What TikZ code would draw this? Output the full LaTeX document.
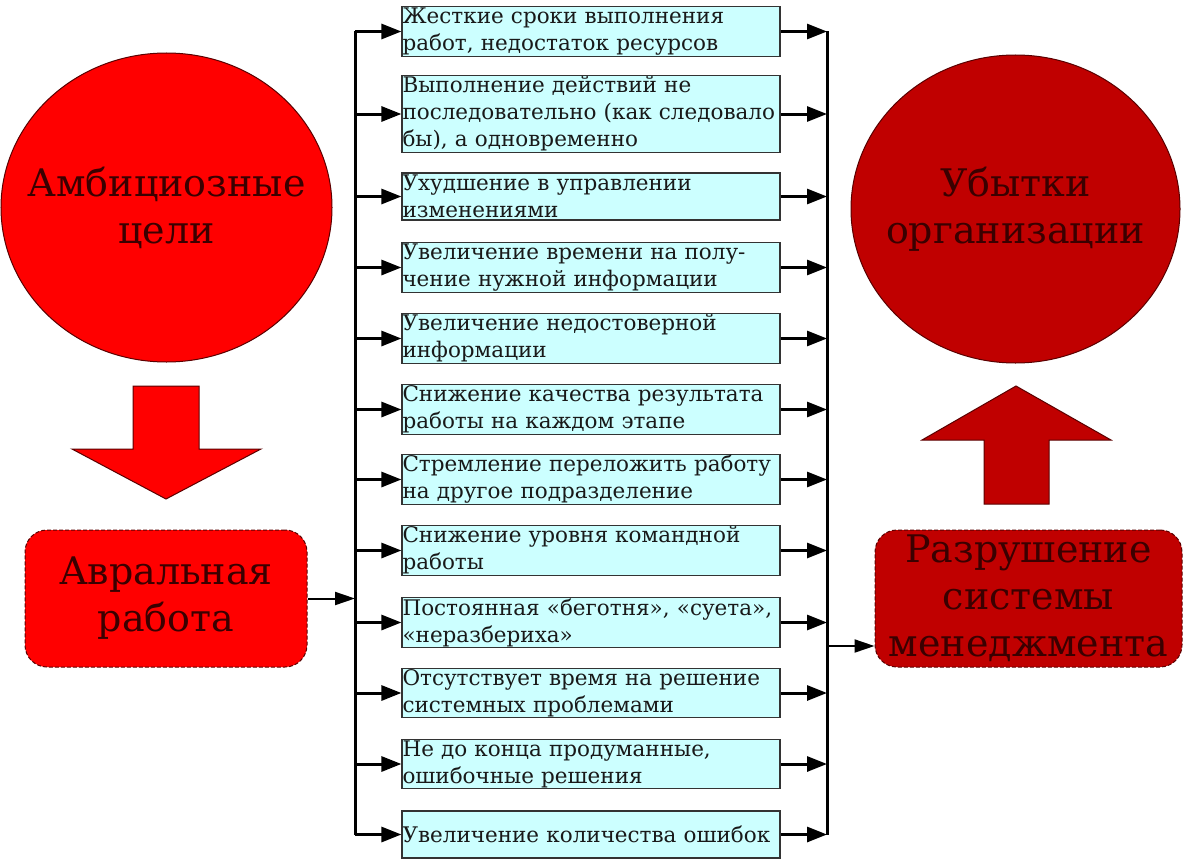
\documentclass[tikz,border=0pt]{standalone}
\usepackage{fontspec}
\setmainfont{DejaVu Serif}
\usetikzlibrary{arrows.meta,shapes.geometric}
\definecolor{boxfill}{HTML}{CCFFFF}
\definecolor{dred}{HTML}{C00000}
\definecolor{txtred}{HTML}{3A0000}
\definecolor{edgered}{HTML}{5A0000}
\begin{document}
\begin{tikzpicture}[x=1pt,y=-1pt,
  item/.style={draw=black!80, line width=1.2pt, fill=boxfill, minimum width=378pt,
    text width=377pt, align=left, inner xsep=0.5pt, inner ysep=1pt, font=\fontsize{21.5}{27}\selectfont, text=black!90},
  conn/.style={line width=3pt, -{Triangle[length=20pt,width=15pt]}},
  conn2/.style={line width=2pt, -{Triangle[length=20pt,width=13pt]}},
  bus/.style={line width=3pt},
  bigtext/.style={font=\fontsize{38}{47}\selectfont, align=center, text=txtred},
  rbox/.style={draw=edgered, dash pattern=on 4pt off 2pt, line width=1pt, rounded corners=22pt,
    minimum width=282pt, minimum height=137pt, inner sep=0pt},
  goal/.style={ellipse, draw=edgered, line width=1pt, inner sep=0pt},
  bigarrow/.style={draw=edgered, line width=1pt}
]
\useasboundingbox (0,0) rectangle (1183,859);

% ellipses
\node[goal, fill=red, minimum width=331pt, minimum height=309pt] (c1) at (166.5,207.5) {};
\node[bigtext] (c1t) at (c1.center) {Амбициозные\\цели};
\node[goal, fill=dred, minimum width=329pt, minimum height=308pt] (c2) at (1015.5,209) {};
\node[bigtext] (c2t) at (c2.center) {Убытки\\организации};

% big arrows
\filldraw[bigarrow, fill=red] (133,386) -- (199,386) -- (199,449) -- (261,449) -- (166,499) -- (72,449) -- (133,449) -- cycle;
\filldraw[bigarrow, fill=dred] (984,504) -- (1049,504) -- (1049,440) -- (1111,440) -- (1016,386) -- (922,440) -- (984,440) -- cycle;

% rounded boxes
\node[rbox, fill=red, bigtext] (avral) at (166,598.5) {Авральная\\работа};
\node[rbox, fill=dred, minimum width=307pt, bigtext] (razr) at (1028.5,598.5) {Разрушение\\системы\\менеджмента};

% item boxes
\node[item, minimum height=47pt] (b1) at (591,31.5) {Жесткие сроки выполнения\\работ, недостаток ресурсов};
\node[item, minimum height=70pt] (b2) at (591,114) {Выполнение действий не\\последовательно (как следовало\\бы), а одновременно};
\node[item, minimum height=47pt] (b3) at (591,196.5) {Ухудшение в управлении\\изменениями};
\node[item, minimum height=47pt] (b4) at (591,267.5) {Увеличение времени на полу-\\чение нужной информации};
\node[item, minimum height=47pt] (b5) at (591,338.5) {Увеличение недостоверной\\информации};
\node[item, minimum height=47pt] (b6) at (591,409.5) {Снижение качества результата\\работы на каждом этапе};
\node[item, minimum height=47pt] (b7) at (591,479.5) {Стремление переложить работу\\на другое подразделение};
\node[item, minimum height=47pt] (b8) at (591,550.5) {Снижение уровня командной\\работы};
\node[item, minimum height=47pt] (b9) at (591,622.5) {Постоянная «беготня», «суета»,\\«неразбериха»};
\node[item, minimum height=47pt] (b10) at (591,693) {Отсутствует время на решение\\системных проблемами};
\node[item, minimum height=47pt] (b11) at (591,764) {Не до конца продуманные,\\ошибочные решения};
\node[item, minimum height=47pt] (b12) at (591,834.5) {Увеличение количества ошибок};

% buses
\coordinate (lbus) at (355,0);
\coordinate (rbus) at (827,0);
\draw[bus] (lbus |- b1.west) -- (lbus |- b12.west);
\draw[bus] (rbus |- b1.east) -- (rbus |- b12.east);

\foreach \b in {b1,b2,b3,b4,b5,b6,b7,b8,b9,b10,b11,b12}{
  \draw[conn] (lbus |- \b.west) -- (\b.west);
  \draw[conn] (\b.east) -- (rbus |- \b.east);
}

\draw[conn2] (avral.east) -- (lbus |- avral.east);
\coordinate (rj) at (827,646);
\draw[conn2] (rj) -- (razr.west |- rj);
\end{tikzpicture}
\end{document}
